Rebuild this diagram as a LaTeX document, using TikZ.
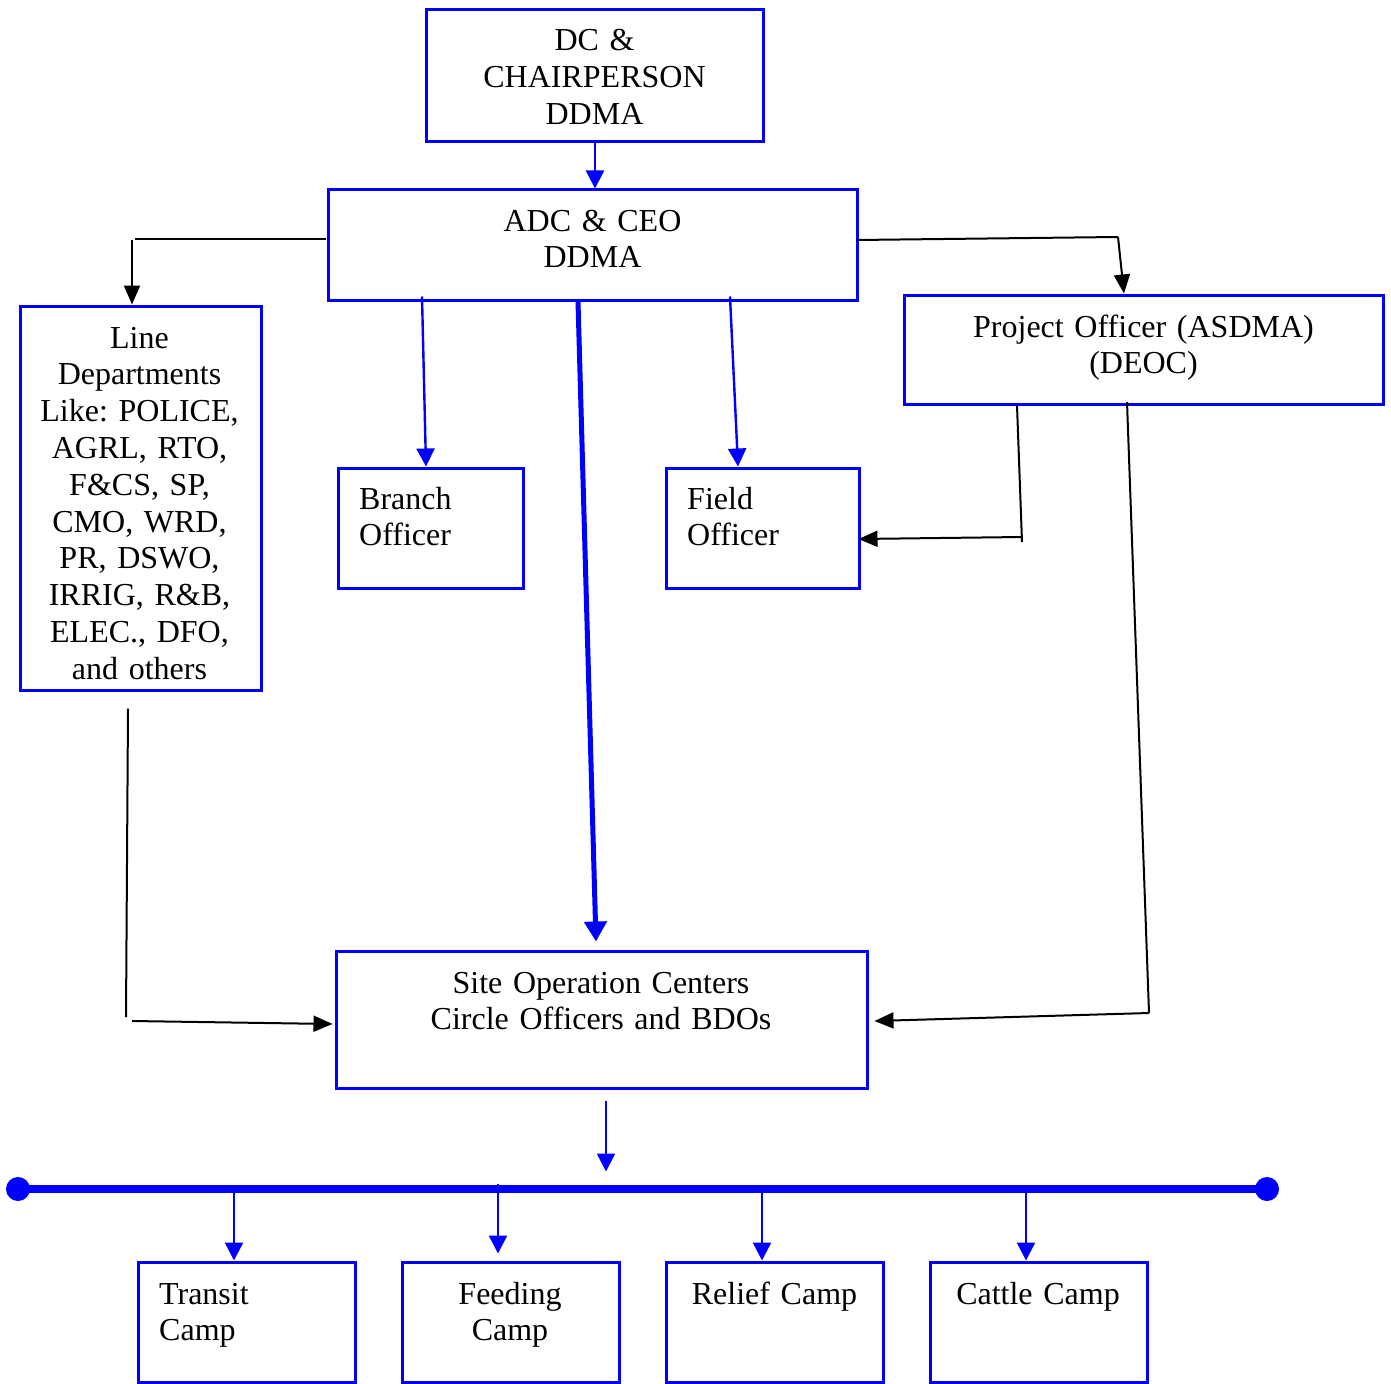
\documentclass[tikz,border=0pt]{standalone}
\usepackage{fontspec}
\setmainfont{Liberation Serif}
\usetikzlibrary{arrows.meta,calc}
\definecolor{bb}{RGB}{0,0,255}
\newcommand{\diagfont}{\fontsize{32}{36.8}\selectfont\frenchspacing\spaceskip=5.6pt plus 2pt minus 1pt\relax}
\begin{document}
\begin{tikzpicture}[x=1pt,y=-1pt,
  box/.style={draw=bb,line width=3pt,rectangle,inner sep=0pt},
  txt/.style={inner sep=0pt,anchor=base,align=center,font=\diagfont},
  ltxt/.style={inner sep=0pt,anchor=base west,align=left,text width=170pt,font=\diagfont},
  kline/.style={black,line width=2pt},
  karrow/.style={black,line width=2pt,-{Triangle[length=19pt,width=16pt]}},
  barrow/.style={bb,line width=2.4pt,-{Triangle[length=18pt,width=18pt]}},
  thickarrow/.style={bb,line width=5pt,-{Triangle[length=20pt,width=22pt]}},
]
\useasboundingbox (0,0) rectangle (1391,1383);
% boxes
\node[box,minimum width=337pt,minimum height=132pt] (dc) at (594.5,76) {};
\node[box,minimum width=529pt,minimum height=110pt] (adc) at (592.5,245) {};
\node[box,minimum width=241pt,minimum height=384pt] (line) at (140.5,498) {};
\node[box,minimum width=185pt,minimum height=120pt] (branch) at (430.5,528) {};
\node[box,minimum width=193pt,minimum height=120pt] (field) at (762.5,528) {};
\node[box,minimum width=479pt,minimum height=109pt] (proj) at (1143.5,349.5) {};
\node[box,minimum width=531pt,minimum height=137pt] (site) at (601.5,1019.5) {};
\node[box,minimum width=217pt,minimum height=120pt] (transit) at (246.5,1322) {};
\node[box,minimum width=217pt,minimum height=120pt] (feeding) at (510.5,1322) {};
\node[box,minimum width=217pt,minimum height=120pt] (relief) at (774.5,1322) {};
\node[box,minimum width=217pt,minimum height=120pt] (cattle) at (1038.5,1322) {};
% texts
\node[txt,text width=320pt] (dct) at (594.5,51) {DC \&\\CHAIRPERSON\\DDMA};
\node[txt,text width=500pt] (adct) at (592.5,231) {ADC \& CEO\\DDMA};
\node[txt,text width=236pt] (linet) at (139.5,348) {Line\\Departments\\Like: POLICE,\\AGRL, RTO,\\F\&CS, SP,\\CMO, WRD,\\PR, DSWO,\\IRRIG, R\&B,\\ELEC., DFO,\\and others};
\node[ltxt] (brancht) at (359,509) {Branch\\Officer};
\node[ltxt] (fieldt) at (687,509) {Field\\Officer};
\node[txt,text width=470pt] (projt) at (1143.5,337) {Project Officer (ASDMA)\\(DEOC)};
\node[txt,text width=520pt] (sitet) at (601,993) {Site Operation Centers\\Circle Officers and BDOs};
\node[ltxt] (transitt) at (159,1304) {Transit\\Camp};
\node[txt,text width=210pt] (feedingt) at (510,1304) {Feeding\\Camp};
\node[txt,text width=210pt] (relieft) at (774.5,1304) {Relief Camp};
\node[txt,text width=210pt] (cattlet) at (1038,1304) {Cattle Camp};
% coordinates
\coordinate (lA) at (135,239);
\coordinate (lB) at (132,240);
\coordinate (rA) at (1118,237);
\coordinate (pf) at (1022,542);
\coordinate (pfB) at (1022,537);
\coordinate (ps) at (1149,1013);
\coordinate (ls) at (126,1017);
\coordinate (lsB) at (132,1021);
\coordinate (busL) at (18,1189);
\coordinate (busR) at (1267,1189);
% connectors
\draw[barrow] ($(dc.south)+(0.5,0)$) -- ($(dc.south |- adc.north)+(0.5,0)$);
\draw[kline] ($(adc.west)+(-1,-6)$) -- (lA);
\draw[karrow] (lB) -- (lB |- line.north);
\draw[kline] ($(adc.east)+(-2,-5)$) -- (rA);
\draw[karrow] (rA) -- ($(proj.north)+(-19.5,0)$);
\draw[barrow] ($(adc.south)+(-170.5,-5)$) -- ($(branch.north)+(-4.5,0)$);
\draw[barrow] ($(adc.south)+(137.5,-5)$) -- ($(field.north)+(-24.5,0)$);
\draw[thickarrow] ($(adc.south)+(-14.5,0)$) -- ($(site.north)+(-5.5,-8)$);
\draw[kline] ($(proj.south)+(-126.5,0)$) -- (pf);
\draw[karrow] (pfB) -- ($(field.east)+(-2,11)$);
\draw[kline] ($(proj.south)+(-16.5,-3.5)$) -- (ps);
\draw[karrow] (ps) -- ($(site.east)+(6,1.5)$);
\draw[kline] ($(line.south)+(-12.5,17)$) -- (ls);
\draw[karrow] (lsB) -- ($(site.west)+(-2,4.5)$);
\draw[barrow] ($(site.south)+(4.5,11)$) -- ++(0,71);
% bus
\draw[bb,line width=8pt] (busL) -- (busR);
\fill[bb] (busL) circle[radius=12pt];
\fill[bb] (busR) circle[radius=12pt];
\draw[barrow] ($(busL -| transit.north)+(-12.5,0)$) -- ($(transit.north)+(-12.5,0)$);
\draw[barrow] ($(busL -| feeding.north)+(-12.5,-5)$) -- ($(feeding.north)+(-12.5,-7)$);
\draw[barrow] ($(busL -| relief.north)+(-12.5,0)$) -- ($(relief.north)+(-12.5,0)$);
\draw[barrow] ($(busL -| cattle.north)+(-12.5,0)$) -- ($(cattle.north)+(-12.5,0)$);
\end{tikzpicture}
\end{document}
